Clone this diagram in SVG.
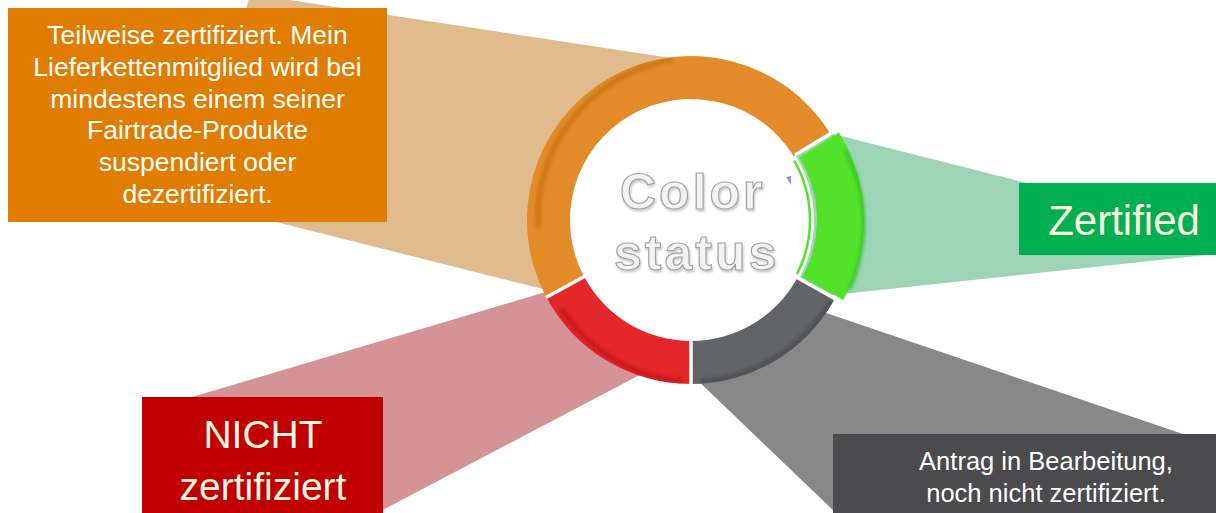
<svg xmlns="http://www.w3.org/2000/svg" width="1216" height="513" viewBox="0 0 1216 513">
  <defs>
    <style>
      .lbl { font-family: "Liberation Sans", Arial, sans-serif; text-anchor: middle; }
      .white { fill: #ffffff; }
      .cream { fill: #FBF7E2; }
      .gap { stroke: #ffffff; stroke-width: 3.5; fill: none; }
      .band { fill: none; stroke-linecap: round; filter: url(#soft); }
      .ctr { font-family: "Liberation Sans", Arial, sans-serif; font-weight: bold; font-size: 50px; letter-spacing: 3px; fill: #f3f3f3; stroke: #a3a3a3; stroke-width: 1.2; }
    </style>
    <filter id="soft" x="-20%" y="-20%" width="140%" height="140%">
      <feGaussianBlur stdDeviation="1.8"/>
    </filter>
    <filter id="edge" x="-5%" y="-5%" width="110%" height="110%">
      <feGaussianBlur stdDeviation="0.6"/>
    </filter>
    <filter id="tshadow" x="-10%" y="-10%" width="120%" height="130%">
      <feGaussianBlur in="SourceAlpha" stdDeviation="1.2" result="b"/>
      <feOffset dx="1" dy="1.5" result="o"/>
      <feFlood flood-color="#000000" flood-opacity="0.22"/>
      <feComposite in2="o" operator="in" result="s"/>
      <feMerge><feMergeNode in="s"/><feMergeNode in="SourceGraphic"/></feMerge>
    </filter>
    <clipPath id="ringclip">
      <path d="M691,56 A164,164 0 1 1 690.99,56 Z M691,99 A121,121 0 1 0 691.01,99 Z" clip-rule="evenodd"/>
    </clipPath>
  </defs>

  <rect width="1216" height="513" fill="#ffffff"/>

  <g id="connectors">
    <polygon id="beam-partial" points="250,-6 691,61 691,326 200,203" fill="#E0BB8E" filter="url(#edge)"/>
    <polygon id="beam-certified" points="691,98 1216,231 1216,254 691,310" fill="#9DD4B6" filter="url(#edge)"/>
    <polygon id="beam-pending" points="691,267 1183,434 1183,513 836,513 691,374" fill="#888888" filter="url(#edge)"/>
    <polygon id="beam-not" points="691,249 192,397 200,513 377,513 691,348" fill="#D49394" filter="url(#edge)"/>
  </g>

  <g id="node-center">
    <circle cx="691" cy="220" r="123" fill="#ffffff"/>
    <path id="seg-orange" fill="#E38B28" d="M546.20,296.99 A164,164 0 0 1 830.08,133.09 L793.61,155.88 A121,121 0 0 0 584.16,276.81 Z"/>
    <path id="seg-red" fill="#E3272A" d="M691,384 A164,164 0 0 1 546.20,296.99 L584.16,276.81 A121,121 0 0 0 691,341 Z"/>
    <path id="seg-gray" fill="#636466" d="M834.44,299.51 A164,164 0 0 1 691,384 L691,341 A121,121 0 0 0 796.83,278.66 Z"/>
    <g clip-path="url(#ringclip)">
      <path class="band" d="M538,225 A161,161 0 0 1 670,60" stroke="#CD7614" stroke-width="6" opacity="0.8"/>
      <path class="band" d="M562,310 A161,161 0 0 0 680,381" stroke="#C9181D" stroke-width="6" opacity="0.8"/>
      <path class="band" d="M703,381 A161,161 0 0 0 830,303" stroke="#4E4F52" stroke-width="6" opacity="0.8"/>
    </g>
    <path id="seg-green" fill="#52E22A" d="M838.93,132.56 A165,165 0 0 1 843.31,299.99 L802.21,277.21 A118,118 0 0 0 799.07,157.47 Z"/>
    <path class="band" d="M846,152 A158,158 0 0 1 850,288" stroke="#38C22C" stroke-width="4" opacity="0.8"/>
    <path d="M794.06,160.5 A119,119 0 0 1 797.03,274.02" fill="none" stroke="#52E22A" stroke-width="2.5"/>
    <line class="gap" x1="589" y1="274" x2="546" y2="297.5"/>
    <line class="gap" x1="691" y1="338" x2="691" y2="385"/>
    <line class="gap" x1="798" y1="278" x2="848" y2="306"/>
    <line class="gap" x1="795" y1="155" x2="843" y2="126"/>
    <polygon points="786,177 791,176 791,185" fill="#7A9FD8"/>
    <g filter="url(#tshadow)">
      <text class="ctr" x="620" y="209">Color</text>
      <text class="ctr" x="614" y="270">status</text>
    </g>
  </g>

  <g id="node-partial">
    <rect x="8" y="8" width="379" height="214" fill="#E07C00"/>
    <text class="lbl white" font-size="26.5" x="197.5" y="44">Teilweise zertifiziert. Mein</text>
    <text class="lbl white" font-size="26.5" x="197.5" y="75.8">Lieferkettenmitglied wird bei</text>
    <text class="lbl white" font-size="26.5" x="197.5" y="107.6">mindestens einem seiner</text>
    <text class="lbl white" font-size="26.5" x="197.5" y="139.4">Fairtrade-Produkte</text>
    <text class="lbl white" font-size="26.5" x="197.5" y="171.2">suspendiert oder</text>
    <text class="lbl white" font-size="26.5" x="197.5" y="203">dezertifiziert.</text>
  </g>

  <g id="node-certified">
    <rect x="1019" y="183" width="197" height="72" fill="#00B050"/>
    <text class="lbl cream" font-size="42" x="1124" y="235">Zertified</text>
  </g>

  <g id="node-not-certified">
    <rect x="142" y="397" width="241" height="116" fill="#C00000"/>
    <text class="lbl cream" font-size="39" x="263" y="448">NICHT</text>
    <text class="lbl cream" font-size="39" x="263" y="500">zertifiziert</text>
  </g>

  <g id="node-pending">
    <rect x="833" y="434" width="383" height="79" fill="#4B4B4D"/>
    <text class="lbl white" font-size="25.5" x="1046" y="470">Antrag in Bearbeitung,</text>
    <text class="lbl white" font-size="25.5" x="1046" y="502">noch nicht zertifiziert.</text>
  </g>
</svg>
